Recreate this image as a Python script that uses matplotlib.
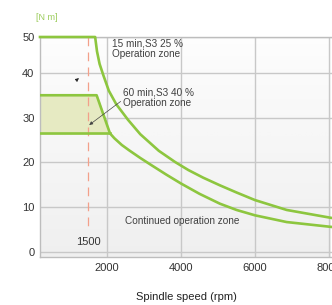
import numpy as np
import matplotlib.pyplot as plt
from matplotlib.scale import FuncScale

plt.rcParams['font.family'] = ['Liberation Sans', 'DejaVu Sans']

# values
outer_rpm = [190, 1680, 1730, 1800, 1900, 2050, 2250, 2570, 2900, 3400, 3840,
             4200, 4600, 5050, 5500, 6000, 6855, 8080]
outer_torque = [50, 50, 46, 42.5, 39.5, 36, 33, 29.5, 26.3, 22.6, 20.1,
                18.3, 16.6, 14.9, 13.3, 11.6, 9.4, 7.6]
inner_rpm = [190, 1720, 2080, 2200, 2400, 2600, 2900, 3200, 3600, 4000,
             4500, 5050, 5500, 6000, 6855, 8080]
inner_torque = [35, 35, 26.5, 25.4, 23.9, 22.7, 21.0, 19.4, 17.3, 15.3,
                13.0, 10.8, 9.4, 8.2, 6.7, 5.6]
zone_rpm = [190, 1720, 2080]
zone_top = [35, 35, 26.5]
zone_bottom = 26.5
base_speed = 1500
xticks = [2000, 4000, 6000, 8000]
yticks = [0, 10, 20, 30, 40, 50]

green = '#8dc63f'
txt = '#404040'

# the y axis of the original is squeezed above 40
def fwd(y):
    y = np.asarray(y, dtype=float)
    return np.where(y <= 40, y, 40 + (y - 40) * 0.8)

def inv(t):
    t = np.asarray(t, dtype=float)
    return np.where(t <= 40, t, 40 + (t - 40) / 0.8)

fig = plt.figure(figsize=(3.32, 3.05), dpi=100)
ax = fig.add_axes([40/332, 48/305, 292/332, 220/305])
ax.set_yscale(FuncScale(ax, (fwd, inv)))
ax.set_xlim(190, 8080)
ax.set_ylim(-1.1, 50)

# light gradient background
grad = np.linspace(0.015, 0.13, 100).reshape(-1, 1)
ax.imshow(grad, cmap='Greys', vmin=0, vmax=1, aspect='auto',
          extent=[190, 8080, -1.1, 50], origin='upper', zorder=0)

ax.set_xticks(xticks)
ax.set_yticks(yticks)
ax.set_yticklabels(['0', '10', '20', '30', '40', '50'])
ax.grid(True, color='#c8c8c8', lw=1)
ax.set_axisbelow(True)
ax.tick_params(length=0, labelsize=8, colors='#333333', pad=4)
ax.spines['right'].set_visible(False)
for s in ['left', 'bottom', 'top']:
    ax.spines[s].set_color('#bdbdbd')
    ax.spines[s].set_linewidth(1)

ax.fill_between(zone_rpm, zone_bottom, zone_top, color='#e6eac2', zorder=1)
ax.plot([zone_rpm[0], zone_rpm[-1]], [zone_bottom, zone_bottom], color=green, lw=1.9, zorder=3)
ax.plot(outer_rpm, outer_torque, color=green, lw=1.9, zorder=3, clip_on=False)
ax.plot(inner_rpm, inner_torque, color=green, lw=1.9, zorder=3)

ax.plot([base_speed, base_speed], [50, 5.6], color='#f3a08a', lw=0.9,
        dashes=(7, 5), zorder=2)
ax.text(base_speed, 2.2, '1500', fontsize=8, ha='center', va='center', color='#333333')

ax.text(2130, 46.6, '15 min,S3 25 %\nOperation zone', fontsize=7.2, color=txt,
        va='center', ha='left', linespacing=1.05)
ax.text(2430, 34.4, '60 min,S3 40 %\nOperation zone', fontsize=7.2, color=txt,
        va='center', ha='left', linespacing=1.05)
ax.annotate('', xy=(1460, 28), xytext=(2430, 34.0),
            arrowprops=dict(arrowstyle='-|>', color='#444444', lw=0.5,
                            mutation_scale=5))
ax.annotate('', xy=(1300, 39.2), xytext=(1150, 38.2),
            arrowprops=dict(arrowstyle='-|>', color='#222222', lw=0.5,
                            mutation_scale=5))
ax.text(2500, 6.9, 'Continued operation zone', fontsize=7.2, color=txt,
        va='center', ha='left')

fig.text(47/332, 1 - 18/305, '[N m]', fontsize=6.5, color='#9ccc5c', ha='center', va='center')
ax.set_xlabel('Spindle speed (rpm)', fontsize=8, color='#222222', labelpad=14)

fig.savefig('out.png', dpi=100)
